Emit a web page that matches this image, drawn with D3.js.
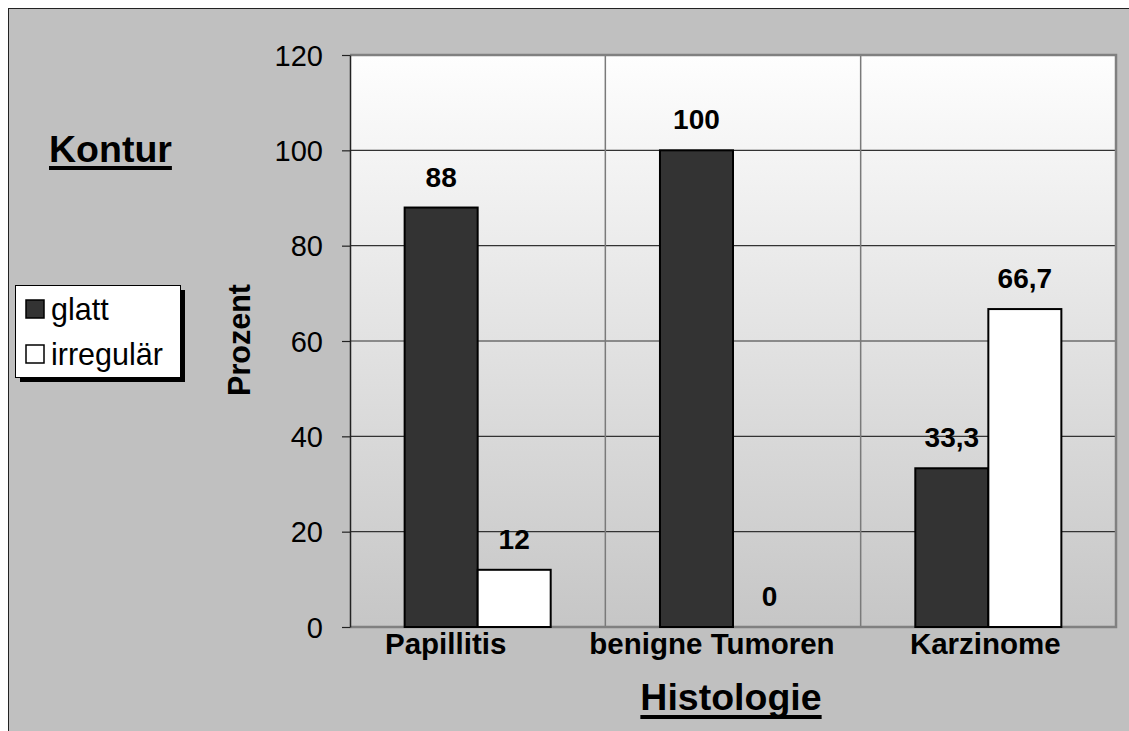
<!DOCTYPE html>
<html>
<head>
<meta charset="utf-8">
<script src="https://cdn.jsdelivr.net/npm/d3@7"></script>
<style>
  html, body { margin: 0; padding: 0; background: #ffffff; }
  svg { display: block; }
  text { font-family: "Liberation Sans", Arial, sans-serif; fill: #000; }
</style>
</head>
<body>
<svg id="chart" width="1129" height="731"></svg>
<script>
// Histology categories and contour share (percent)
const categories = ["Papillitis", "benigne Tumoren", "Karzinome"];
const seriesNames = ["glatt", "irregulär"];
const glatt = [88, 100, 33.3];
const irregular = [12, 0, 66.7];
const yTicks = [0, 20, 40, 60, 80, 100, 120];

const seriesFill = ["#333333", "#ffffff"];
const labelNudge = [-32, -21, -3]; // horizontal shift of the category labels

const svg = d3.select("#chart");
const W = 1129, H = 731;

// chart background frame
svg.append("rect")
  .attr("x", 8.5).attr("y", 8.5)
  .attr("width", W + 10).attr("height", H + 10)
  .attr("fill", "#c0c0c0").attr("stroke", "#222").attr("stroke-width", 1);

const plot = { left: 350, right: 1116, top: 55, bottom: 627 };

const y = d3.scaleLinear().domain([0, 120]).range([plot.bottom, plot.top]);
const x0 = d3.scaleBand().domain(categories).range([plot.left, plot.right]).padding(0);
const bw = x0.bandwidth();
const x1 = d3.scaleBand().domain(seriesNames).range([bw * 0.214, bw * 0.786]).padding(0);

// plot area gradient
const defs = svg.append("defs");
const grad = defs.append("linearGradient").attr("id", "plotGrad")
  .attr("x1", 0).attr("y1", 0).attr("x2", 0).attr("y2", 1);
grad.append("stop").attr("offset", "0%").attr("stop-color", "#fefefe");
grad.append("stop").attr("offset", "100%").attr("stop-color", "#c6c6c6");

svg.append("rect")
  .attr("x", plot.left).attr("y", plot.top)
  .attr("width", plot.right - plot.left).attr("height", plot.bottom - plot.top)
  .attr("fill", "url(#plotGrad)");

// horizontal gridlines
svg.append("g").selectAll("line")
  .data(yTicks.filter(t => t > 0 && t < 120))
  .join("line")
  .attr("x1", plot.left).attr("x2", plot.right)
  .attr("y1", d => y(d)).attr("y2", d => y(d))
  .attr("stroke", "#333").attr("stroke-width", 1.2);

// vertical category separators
svg.append("g").selectAll("line")
  .data(categories.slice(1))
  .join("line")
  .attr("x1", d => x0(d)).attr("x2", d => x0(d))
  .attr("y1", plot.top).attr("y2", plot.bottom)
  .attr("stroke", "#7a7a7a").attr("stroke-width", 1.5);

// plot border (top, right, bottom)
svg.append("path")
  .attr("d", `M${plot.left},${plot.top}H${plot.right}V${plot.bottom}H${plot.left}`)
  .attr("fill", "none").attr("stroke", "#808080").attr("stroke-width", 2.5);

// bars
const rows = categories.map((c, i) => ({ cat: c, vals: [glatt[i], irregular[i]] }));
const groups = svg.append("g").selectAll("g")
  .data(rows).join("g")
  .attr("transform", d => `translate(${x0(d.cat)},0)`);

groups.selectAll("rect")
  .data(d => d.vals.map((v, k) => ({ s: seriesNames[k], v, k })))
  .join("rect")
  .attr("x", d => x1(d.s))
  .attr("y", d => y(d.v))
  .attr("width", x1.bandwidth())
  .attr("height", d => y(0) - y(d.v))
  .attr("fill", d => seriesFill[d.k])
  .attr("stroke", "#000").attr("stroke-width", 2);

// value labels
groups.selectAll("text.val")
  .data(d => d.vals.map((v, k) => ({ s: seriesNames[k], v })))
  .join("text").attr("class", "val")
  .attr("x", d => x1(d.s) + x1.bandwidth() / 2)
  .attr("y", d => y(d.v) - 21)
  .attr("text-anchor", "middle")
  .attr("font-size", 28).attr("font-weight", "bold")
  .text(d => String(d.v).replace(".", ","));

// y axis
const yAxis = svg.append("g")
  .attr("transform", `translate(${plot.left},0)`)
  .call(d3.axisLeft(y).tickValues(yTicks).tickSize(8).tickPadding(19).tickSizeOuter(0));
yAxis.select(".domain").attr("stroke", "#222").attr("stroke-width", 1.5);
yAxis.selectAll(".tick line").attr("stroke", "#222").attr("stroke-width", 1.2);
yAxis.selectAll(".tick text")
  .attr("font-size", 29).attr("font-family", "'Liberation Sans', Arial, sans-serif")
  .attr("fill", "#000").attr("dy", "0.35em");

// category labels
svg.append("g").selectAll("text")
  .data(categories)
  .join("text")
  .attr("x", (d, i) => x0(d) + bw / 2 + labelNudge[i])
  .attr("y", 654)
  .attr("text-anchor", "middle")
  .attr("font-size", 29.5).attr("font-weight", "bold")
  .text(d => d);

// underlined titles
function underlinedTitle(text, x, yBase, anchor, lineY) {
  const t = svg.append("text")
    .attr("x", x).attr("y", yBase)
    .attr("text-anchor", anchor)
    .attr("font-size", 37.5).attr("font-weight", "bold")
    .text(text);
  const len = t.node().getComputedTextLength();
  const start = anchor === "middle" ? x - len / 2 : x;
  svg.append("rect")
    .attr("x", start).attr("y", lineY)
    .attr("width", len).attr("height", 4)
    .attr("fill", "#000");
}
underlinedTitle("Kontur", 49, 162, "start", 166);
underlinedTitle("Histologie", 731, 710, "middle", 715);

// y axis title
svg.append("text")
  .attr("transform", "translate(250,340) rotate(-90)")
  .attr("text-anchor", "middle")
  .attr("font-size", 30.5).attr("font-weight", "bold")
  .text("Prozent");

// legend
const lg = svg.append("g");
lg.append("rect").attr("x", 20).attr("y", 290).attr("width", 165).attr("height", 92).attr("fill", "#000");
lg.append("rect").attr("x", 15.5).attr("y", 285.5).attr("width", 165).attr("height", 92)
  .attr("fill", "#fff").attr("stroke", "#000").attr("stroke-width", 1);
const entries = lg.selectAll("g.entry")
  .data(seriesNames).join("g").attr("class", "entry")
  .attr("transform", (d, i) => `translate(0,${i * 45})`);
entries.append("rect")
  .attr("x", 26).attr("y", 300).attr("width", 18).attr("height", 18)
  .attr("fill", (d, i) => seriesFill[i]).attr("stroke", "#000").attr("stroke-width", 1.5);
entries.append("text")
  .attr("x", 51).attr("y", 320)
  .attr("font-size", 30.5)
  .text(d => d);
</script>
</body>
</html>
